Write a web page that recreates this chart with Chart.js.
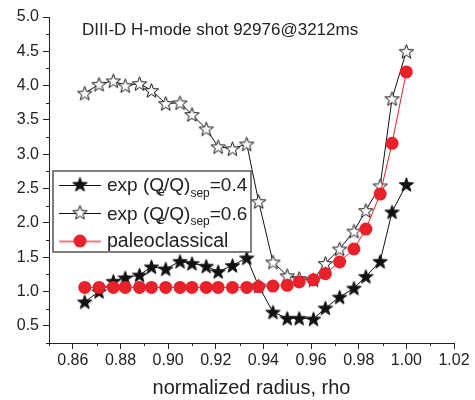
<!DOCTYPE html>
<html>
<head>
<meta charset="utf-8">
<script src="https://cdn.jsdelivr.net/npm/chart.js@4.4.0/dist/chart.umd.min.js"></script>
<style>
  body { margin: 0; background: #fff; }
</style>
</head>
<body>
<canvas id="myChart" width="475" height="400"></canvas>
<script>
// DATA
var rho = [0.865, 0.871, 0.877, 0.882, 0.888, 0.893, 0.899, 0.905, 0.910, 0.916, 0.921, 0.927,
  0.933, 0.938, 0.944, 0.950, 0.955, 0.961, 0.966, 0.972, 0.978, 0.983, 0.989, 0.994, 1.000];
var exp04 = [0.85, 1.00, 1.15, 1.20, 1.24, 1.36, 1.33, 1.44, 1.41, 1.37, 1.29, 1.38,
  1.49, 1.08, 0.70, 0.61, 0.61, 0.60, 0.76, 0.92, 1.05, 1.22, 1.44, 2.16, 2.56];
var exp06 = [3.89, 4.02, 4.07, 4.00, 4.03, 3.93, 3.74, 3.75, 3.58, 3.37, 3.11, 3.08,
  3.15, 2.31, 1.43, 1.23, 1.19, 1.17, 1.41, 1.62, 1.88, 2.18, 2.54, 3.81, 4.50];
var paleo = [1.06, 1.06, 1.06, 1.06, 1.06, 1.06, 1.06, 1.06, 1.06, 1.06, 1.06, 1.06,
  1.06, 1.07, 1.08, 1.09, 1.14, 1.17, 1.26, 1.43, 1.62, 1.91, 2.42, 3.16, 4.20];
var xTicks = [0.86, 0.88, 0.90, 0.92, 0.94, 0.96, 0.98, 1.00, 1.02];
var xMinor = [0.85, 0.87, 0.89, 0.91, 0.93, 0.95, 0.97, 0.99, 1.01];
var yTicks = [0.5, 1.0, 1.5, 2.0, 2.5, 3.0, 3.5, 4.0, 4.5, 5.0];
var yMinor = [0.25, 0.75, 1.25, 1.75, 2.25, 2.75, 3.25, 3.75, 4.25, 4.75];
var plotTitle = "DIII-D H-mode shot 92976@3212ms";
var xTitle = "normalized radius, rho";

var FONT = "'Liberation Sans', Arial, sans-serif";
var INK = "#222";
var RED = "#e8212b";

function pairs(xs, ys) {
  return xs.map(function (x, i) { return { x: x, y: ys[i] }; });
}

// five pointed star marker
function makeStar(fill) {
  var c = document.createElement("canvas");
  c.width = 17;
  c.height = 17;
  var g = c.getContext("2d");
  g.beginPath();
  for (var i = 0; i < 10; i++) {
    var r = i % 2 === 0 ? 7.5 : 3.1;
    var a = -Math.PI / 2 + i * Math.PI / 5;
    var px = 8.5 + r * Math.cos(a);
    var py = 9.2 + r * Math.sin(a);
    if (i === 0) g.moveTo(px, py); else g.lineTo(px, py);
  }
  g.closePath();
  g.fillStyle = fill;
  g.fill();
  g.strokeStyle = "#111";
  g.lineWidth = 1;
  g.stroke();
  return c;
}
var starFilled = makeStar("#111");
var starOpen = makeStar("#fff");

// minor ticks, title and the legend box
var decor = {
  id: "decor",
  afterDraw: function (chart) {
    var ctx = chart.ctx;
    var xs = chart.scales.x, ys = chart.scales.y;
    var area = chart.chartArea;
    ctx.save();
    ctx.strokeStyle = INK;
    ctx.lineWidth = 1;
    xMinor.forEach(function (v) {
      var p = Math.round(xs.getPixelForValue(v)) + 0.5;
      ctx.beginPath();
      ctx.moveTo(p, area.bottom);
      ctx.lineTo(p, area.bottom + 3);
      ctx.stroke();
    });
    yMinor.forEach(function (v) {
      var p = Math.round(ys.getPixelForValue(v)) + 0.5;
      ctx.beginPath();
      ctx.moveTo(area.left - 3, p);
      ctx.lineTo(area.left, p);
      ctx.stroke();
    });

    // title inside the plot
    ctx.fillStyle = INK;
    ctx.font = "17px " + FONT;
    ctx.textBaseline = "alphabetic";
    ctx.fillText(plotTitle, 82, 35);

    // legend
    var bx = 53, by = 171, bw = 198, bh = 81;
    ctx.fillStyle = "#fff";
    ctx.fillRect(bx, by, bw, bh);
    ctx.strokeStyle = "#555";
    ctx.lineWidth = 1.5;
    ctx.strokeRect(bx, by, bw, bh);

    var rows = [
      { y: 185, base: 191, img: starFilled, line: "#111", val: "=0.4" },
      { y: 213, base: 219.5, img: starOpen, line: "#111", val: "=0.6" },
      { y: 241, base: 246.5, img: null, line: "#f07a80", text: "paleoclassical" }
    ];
    rows.forEach(function (r) {
      ctx.strokeStyle = r.line;
      ctx.lineWidth = r.img ? 1 : 2;
      ctx.beginPath();
      ctx.moveTo(59, r.y + 0.5);
      ctx.lineTo(101, r.y + 0.5);
      ctx.stroke();
      if (r.img) {
        ctx.drawImage(r.img, 80 - 8.5, r.y - 9.2);
      } else {
        ctx.fillStyle = RED;
        ctx.beginPath();
        ctx.arc(80, r.y, 6.5, 0, Math.PI * 2);
        ctx.fill();
      }
      var base = r.base;
      var x = 107;
      ctx.fillStyle = INK;
      ctx.textBaseline = "alphabetic";
      ctx.font = "19.5px " + FONT;
      if (r.text) {
        ctx.fillText(r.text, x, base);
        return;
      }
      ctx.font = "19px " + FONT;
      ctx.fillText("exp (Q", x, base);
      x += ctx.measureText("exp (Q").width;
      ctx.font = "12px " + FONT;
      ctx.fillText("e", x - 6, base + 4.5);
      ctx.font = "19px " + FONT;
      ctx.fillText("/Q)", x, base);
      x += ctx.measureText("/Q)").width;
      ctx.font = "12px " + FONT;
      ctx.fillText("sep", x, base + 5.5);
      x += ctx.measureText("sep").width;
      ctx.font = "19px " + FONT;
      ctx.fillText(r.val, x, base);
    });
    ctx.restore();
  }
};

new Chart("myChart", {
  type: "line",
  data: {
    datasets: [
      {
        label: "exp (Qe/Q)sep=0.4",
        data: pairs(rho, exp04),
        borderColor: "#111",
        borderWidth: 1,
        pointStyle: starFilled,
        order: 2
      },
      {
        label: "exp (Qe/Q)sep=0.6",
        data: pairs(rho, exp06),
        borderColor: "#111",
        borderWidth: 1,
        pointStyle: starOpen,
        order: 1
      },
      {
        label: "paleoclassical",
        data: pairs(rho, paleo),
        borderColor: RED,
        backgroundColor: RED,
        borderWidth: 1,
        pointStyle: "circle",
        pointRadius: 6.5,
        pointBorderWidth: 0,
        order: 0
      }
    ]
  },
  options: {
    responsive: false,
    animation: false,
    layout: { padding: { top: 17, right: 21, left: 0, bottom: 0 } },
    plugins: {
      legend: { display: false },
      tooltip: { enabled: false }
    },
    scales: {
      x: {
        type: "linear",
        min: 0.85,
        max: 1.02,
        afterBuildTicks: function (s) {
          s.ticks = xTicks.map(function (v) { return { value: v }; });
        },
        afterFit: function (s) { s.height = 57; },
        grid: { drawOnChartArea: false, tickLength: 6, color: INK },
        border: { color: INK, width: 1 },
        ticks: {
          font: { size: 16, family: FONT },
          color: INK,
          padding: 2,
          maxRotation: 0,
          autoSkip: false,
          callback: function (v) { return Number(v).toFixed(2); }
        },
        title: {
          display: true,
          text: xTitle,
          font: { size: 20, family: FONT },
          color: INK,
          padding: { top: 0, bottom: 0 }
        }
      },
      y: {
        type: "linear",
        min: 0.25,
        max: 5.0,
        afterBuildTicks: function (s) {
          s.ticks = yTicks.map(function (v) { return { value: v }; });
        },
        afterFit: function (s) { s.width = 49; },
        grid: { drawOnChartArea: false, tickLength: 6, color: INK },
        border: { color: INK, width: 1 },
        ticks: {
          font: { size: 16, family: FONT },
          color: INK,
          padding: 4,
          callback: function (v) { return Number(v).toFixed(1); }
        }
      }
    }
  },
  plugins: [decor]
});
</script>
</body>
</html>
